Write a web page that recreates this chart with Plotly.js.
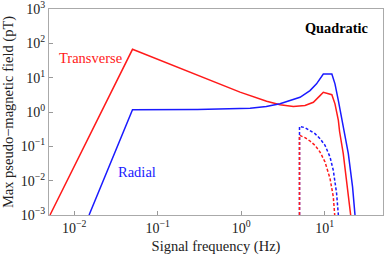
<!DOCTYPE html>
<html><head><meta charset="utf-8">
<script src="https://cdn.plot.ly/plotly-3.0.1.min.js"></script>
<style>html,body{margin:0;padding:0;background:#fff}#c{width:384px;height:255px}</style>
</head><body><div id="c"></div>
<script>
var transX = [0.00514, 0.05, 0.97, 1.28, 2.02, 2.92, 4.22, 5.82, 7.33, 8.81, 9.64, 12.2, 13.3, 14.6, 15.1, 16.7, 18.7, 20.5];
var transY = [0.001, 67, 3.8, 3.0, 2.06, 1.62, 1.45, 1.54, 1.92, 3.0, 3.75, 3.2, 1.73, 0.57, 0.27, 0.062, 0.0066, 0.001];
var radX = [0.0151, 0.05, 0.3, 1.0, 1.28, 2.0, 2.92, 5.07, 6.68, 8.0, 9.2, 9.64, 12.2, 13.3, 14.6, 16.0, 16.9, 19.2, 21.6, 23.1];
var radY = [0.001, 1.17, 1.19, 1.25, 1.29, 1.45, 1.73, 2.69, 4.2, 6.6, 10.7, 12.8, 12.8, 6.6, 2.15, 0.64, 0.29, 0.062, 0.0066, 0.001];
var dashRadX = [5.0, 5.0, 5.82, 6.68, 7.67, 8.81, 10.1, 11.6, 12.7, 13.9, 14.6];
var dashRadY = [0.001, 0.38, 0.35, 0.29, 0.233, 0.167, 0.107, 0.049, 0.020, 0.0043, 0.001];
var dashTransX = [5.0, 5.0, 5.82, 6.68, 7.67, 8.81, 10.1, 11.6, 12.7, 13.2];
var dashTransY = [0.001, 0.21, 0.179, 0.143, 0.107, 0.068, 0.035, 0.0116, 0.0034, 0.001];
var yTickVals = [1e-3, 1e-2, 1e-1, 1, 10, 100, 1000];
var yTickText = ['10<sup>−3</sup>','10<sup>−2</sup>','10<sup>−1</sup>','10<sup>0</sup>','10<sup>1</sup>','10<sup>2</sup>','10<sup>3</sup>'];
var xTickVals = [0.01, 0.1, 1, 10];
var xTickText = ['10<sup>−2</sup>','10<sup>−1</sup>','10<sup>0</sup>','10<sup>1</sup>'];

var RED = '#ff1a1a', BLUE = '#1a1aff';
var traces = [
  {x: dashRadX, y: dashRadY, mode: 'lines', line: {color: BLUE, width: 1.5, dash: '3px,2px'}},
  {x: dashTransX, y: dashTransY, mode: 'lines', line: {color: RED, width: 1.5, dash: '3px,2px'}},
  {x: transX, y: transY, mode: 'lines', line: {color: RED, width: 1.5}},
  {x: radX, y: radY, mode: 'lines', line: {color: BLUE, width: 1.5}}
];
var FAM = 'Liberation Serif';
var font = {family: FAM, size: 14.5, color: '#222'};
var tfont = {family: FAM, size: 14, color: '#222'};
var layout = {
  width: 384, height: 255,
  margin: {l: 49, r: 1, t: 9, b: 40},
  showlegend: false,
  paper_bgcolor: '#fff', plot_bgcolor: '#fff',
  font: font,
  xaxis: {type: 'log', range: [Math.log10(0.005), Math.log10(50)],
    tickmode: 'array', tickvals: xTickVals, ticktext: xTickText,
    ticks: 'inside', ticklen: 4, tickcolor: '#999', showgrid: false, zeroline: false,
    showline: true, linecolor: '#aaa', linewidth: 1, mirror: true,
    tickfont: tfont, ticklabeloverflow: 'allow',
    title: {text: 'Signal frequency (Hz)', font: font, standoff: 8}},
  yaxis: {type: 'log', range: [-3.0001, 3.0001],
    tickmode: 'array', tickvals: yTickVals, ticktext: yTickText,
    ticks: 'inside', ticklen: 4, tickcolor: '#999', showgrid: false, zeroline: false,
    showline: true, linecolor: '#aaa', linewidth: 1, mirror: true,
    tickfont: tfont, ticklabeloverflow: 'allow',
    title: {text: 'Max pseudo−magnetic field (pT)', font: font, standoff: 4}},
  annotations: [
    {xref: 'paper', yref: 'paper', x: 0.123, y: 0.763, text: 'Transverse', showarrow: false,
     font: {family: FAM, size: 14.5, color: RED}, xanchor: 'center', yanchor: 'middle'},
    {xref: 'paper', yref: 'paper', x: 0.263, y: 0.208, text: 'Radial', showarrow: false,
     font: {family: FAM, size: 14.5, color: BLUE}, xanchor: 'center', yanchor: 'middle'},
    {xref: 'paper', yref: 'paper', x: 0.862, y: 0.91, text: '<b>Quadratic</b>', showarrow: false,
     font: {family: FAM, size: 14.3, color: '#000'}, xanchor: 'center', yanchor: 'middle'}
  ]
};
Plotly.newPlot('c', traces, layout, {displayModeBar: false, staticPlot: true});
</script></body></html>
